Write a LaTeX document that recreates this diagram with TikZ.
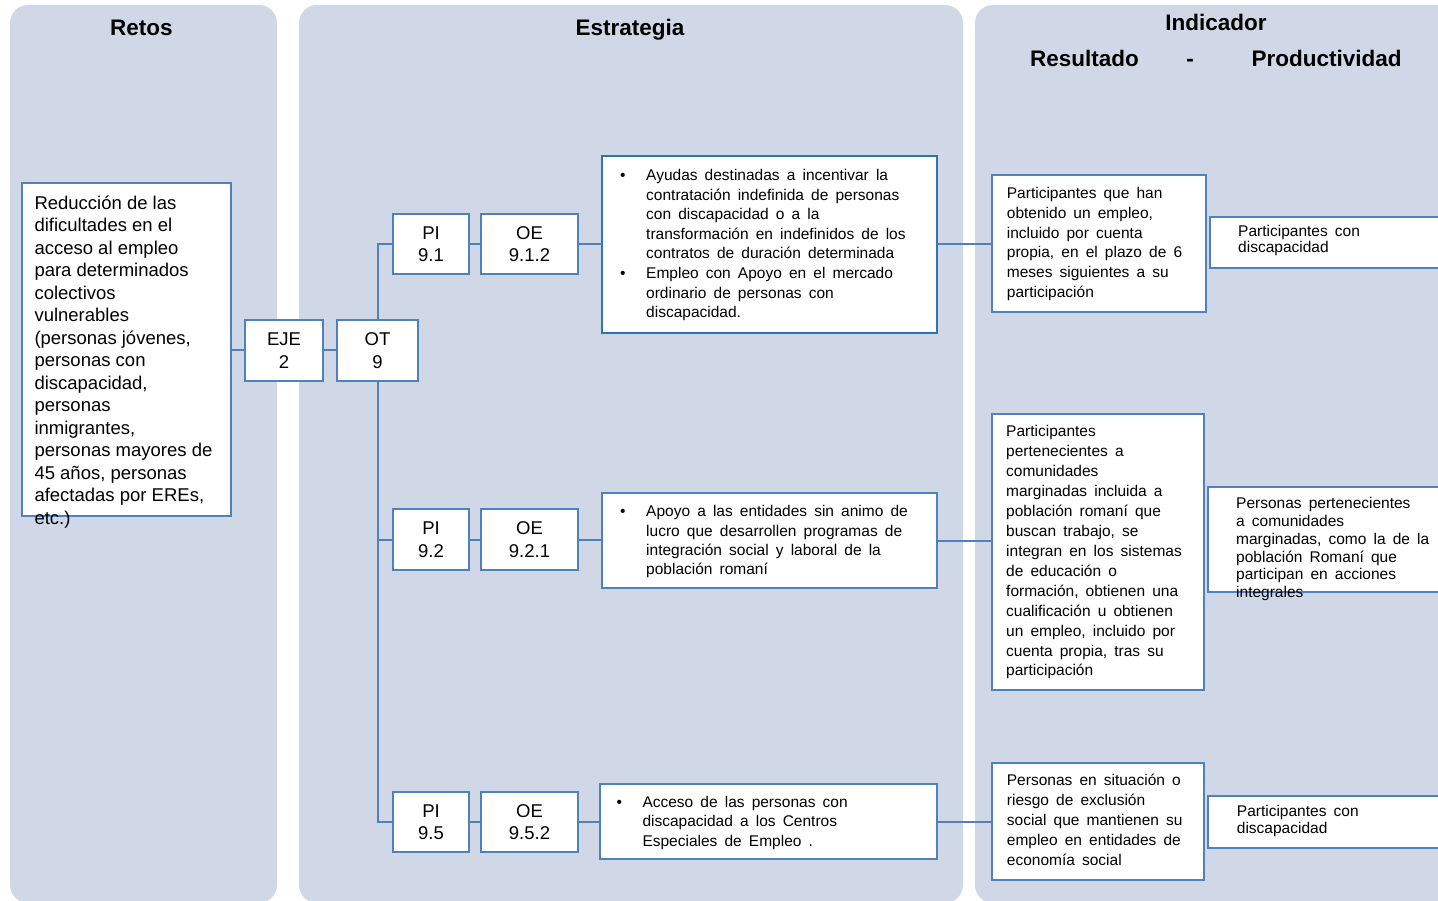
\documentclass[tikz,border=0pt]{standalone}
\usepackage{fontspec}
\setmainfont{Liberation Sans}
\setlength\lineskiplimit{-100pt}
\definecolor{panelc}{RGB}{208,216,232}
\definecolor{boxc}{RGB}{79,129,189}
\definecolor{boxd}{RGB}{46,117,182}
\newcommand\widesp{\spaceskip=.46em\relax}
\newcommand\bulit{\leavevmode\llap{\makebox[26pt][l]{\textbullet}}}
\tikzset{
  panel/.style={fill=panelc, rounded corners=18pt},
  title/.style={anchor=base, inner sep=0pt, font=\fontsize{22.5}{27}\selectfont\bfseries},
  frame/.style={draw=boxc, line width=2pt, fill=white, inner sep=0pt, outer sep=0pt, anchor=north west},
  small/.style={draw=boxc, line width=2pt, fill=white, inner sep=0pt, outer sep=0pt, align=center, font=\fontsize{18.5}{22.5}\selectfont},
  conn/.style={draw=boxc, line width=2pt},
  txtA/.style={anchor=base west, inner sep=0pt, font=\fontsize{18.5}{22.5}\selectfont},
  txtB/.style={anchor=base west, inner sep=0pt, font=\fontsize{15.5}{#1}\selectfont\widesp},
}
\begin{document}
\begin{tikzpicture}[x=1pt,y=-1pt]
\useasboundingbox (0,0) rectangle (1438,901);
\clip (0,0) rectangle (1438,901);
% panels
\fill[panel] (10,5) rectangle (277,903);
\fill[panel] (299,5) rectangle (963,903);
\fill[panel] (975,5) rectangle (1470,903);
% titles
\node[title] (tretos) at (141.5,36) {Retos};
\node[title] (testr) at (630,36) {Estrategia};
\node[title] (tind) at (1216,31) {Indicador};
\node[title] (tres) at (1084.5,67) {Resultado};
\node[title] (tdash) at (1190,67) {-};
\node[title] (tprod) at (1326.5,67) {Productividad};
% boxes (empty frames)
\node[frame, minimum width=209pt, minimum height=333pt] (retos) at (22,183) {};
\node[frame, draw=boxd, minimum width=335pt, minimum height=177pt] (s1) at (602,156) {};
\node[frame, minimum width=335pt, minimum height=95pt] (s2) at (602,493) {};
\node[frame, minimum width=337pt, minimum height=75pt] (s3) at (600,784) {};
\node[frame, minimum width=214pt, minimum height=137pt] (r1) at (992,175) {};
\node[frame, minimum width=240pt, minimum height=51pt] (p1) at (1210,217) {};
\node[frame, minimum width=212pt, minimum height=276pt] (r2) at (992,414) {};
\node[frame, minimum width=242pt, minimum height=105pt] (p2) at (1208,487) {};
\node[frame, minimum width=212pt, minimum height=117pt] (r3) at (992,763) {};
\node[frame, minimum width=242pt, minimum height=52pt] (p3) at (1208,796) {};
% small boxes
\node[small, minimum width=78pt, minimum height=61pt] (eje) at (284,350.5) {EJE\\2};
\node[small, minimum width=81pt, minimum height=61pt] (ot) at (377.5,350.5) {OT\\9};
\node[small, minimum width=76pt, minimum height=60pt] (pi1) at (431,244) {PI\\9.1};
\node[small, minimum width=97pt, minimum height=60pt] (oe1) at (529.5,244) {OE\\9.1.2};
\node[small, minimum width=76pt, minimum height=61pt] (pi2) at (431,539.5) {PI\\9.2};
\node[small, minimum width=97pt, minimum height=61pt] (oe2) at (529.5,539.5) {OE\\9.2.1};
\node[small, minimum width=76pt, minimum height=60pt] (pi5) at (431,822) {PI\\9.5};
\node[small, minimum width=97pt, minimum height=60pt] (oe5) at (529.5,822) {OE\\9.5.2};
% connectors
\draw[conn] (retos.east |- eje.west) -- (eje.west);
\draw[conn] (eje.east) -- (ot.west);
\draw[conn] (ot.north) |- (pi1.west);
\draw[conn] (ot.south) |- (pi2.west);
\draw[conn] (ot.south) |- (pi5.west);
\draw[conn] (pi1.east) -- (oe1.west);
\draw[conn] (oe1.east) -- (oe1.east -| s1.west);
\draw[conn] (s1.east) -- (s1.east -| r1.west);
\draw[conn] (pi2.east) -- (oe2.west);
\draw[conn] (oe2.east) -- (oe2.east -| s2.west);
\draw[conn] (s2.east) -- (s2.east -| r2.west);
\draw[conn] (pi5.east) -- (oe5.west);
\draw[conn] (oe5.east) -- (oe5.east -| s3.west);
\draw[conn] (s3.east) -- (s3.east -| r3.west);
% texts
\node[txtA] (xretos) at (34.3,209.3) {\parbox[t]{260pt}{\raggedright
Reducción de las\\dificultades en el\\acceso al empleo\\para determinados\\colectivos\\vulnerables\\(personas jóvenes,\\personas con\\discapacidad,\\personas\\inmigrantes,\\personas mayores de\\45 años, personas\\afectadas por EREs,\\etc.)}};
\node[txtB=19.57] (xs1) at (646,180.7) {\parbox[t]{330pt}{\raggedright
\bulit Ayudas destinadas a incentivar la\\contratación indefinida de personas\\con discapacidad o a la\\transformación en indefinidos de los\\contratos de duración determinada\\
\bulit Empleo con Apoyo en el mercado\\ordinario de personas con\\discapacidad.}};
\node[txtB=19.4] (xs2) at (646,516.7) {\parbox[t]{330pt}{\raggedright
\bulit Apoyo a las entidades sin animo de\\lucro que desarrollen programas de\\integración social y laboral de la\\población romaní}};
\node[txtB=19.2] (xs3) at (642.3,807.7) {\parbox[t]{330pt}{\raggedright
\bulit Acceso de las personas con\\discapacidad a los Centros\\Especiales de Empleo .}};
\node[txtB=19.9] (xr1) at (1006.7,198.3) {\parbox[t]{300pt}{\raggedright
Participantes que han\\obtenido un empleo,\\incluido por cuenta\\propia, en el plazo de 6\\meses siguientes a su\\participación}};
\node[txtB=16] (xp1) at (1238,236.7) {\parbox[t]{300pt}{\raggedright
Participantes con\\discapacidad}};
\node[txtB=19.94] (xr2) at (1006,436.7) {\parbox[t]{300pt}{\raggedright
Participantes\\pertenecientes a\\comunidades\\marginadas incluida a\\población romaní que\\buscan trabajo, se\\integran en los sistemas\\de educación o\\formación, obtienen una\\cualificación u obtienen\\un empleo, incluido por\\cuenta propia, tras su\\participación}};
\node[txtB=17.9] (xp2) at (1236,508.3) {\parbox[t]{300pt}{\raggedright
Personas pertenecientes\\a comunidades\\marginadas, como la de la\\población Romaní que\\participan en acciones\\integrales}};
\node[txtB=20] (xr3) at (1006.7,785) {\parbox[t]{300pt}{\raggedright
Personas en situación o\\riesgo de exclusión\\social que mantienen su\\empleo en entidades de\\economía social}};
\node[txtB=16.7] (xp3) at (1236.7,816.7) {\parbox[t]{300pt}{\raggedright
Participantes con\\discapacidad}};
\end{tikzpicture}
\end{document}
